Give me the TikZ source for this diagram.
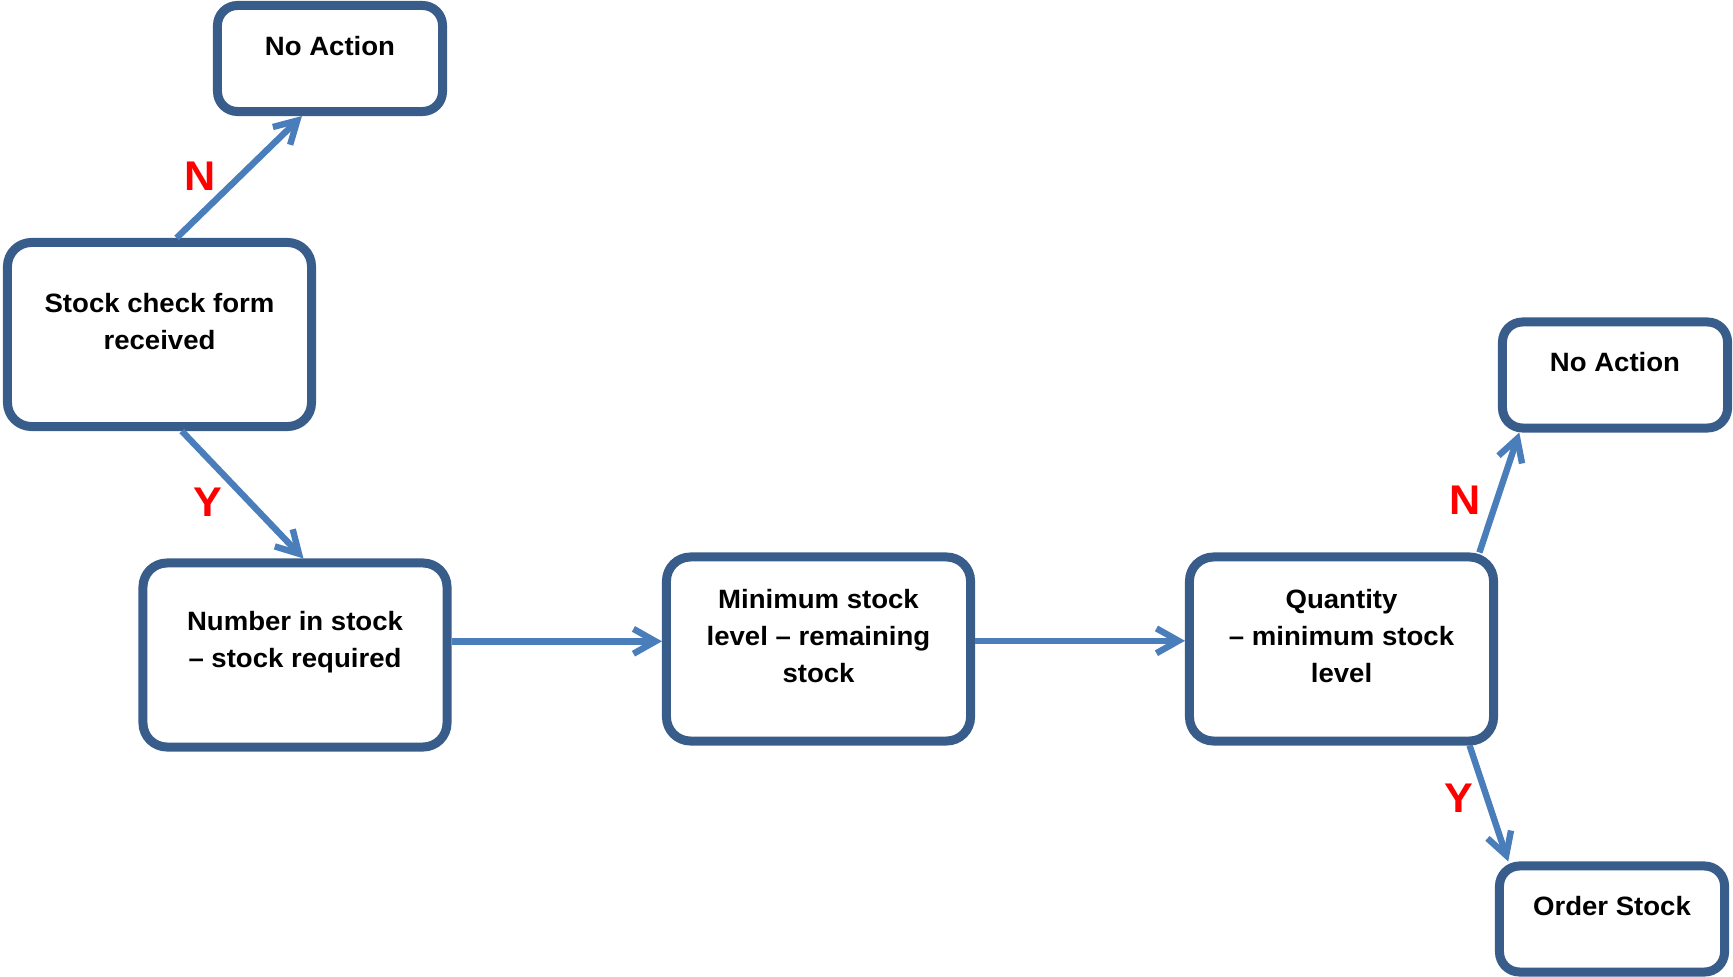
\documentclass[tikz,border=0pt]{standalone}
\usepackage{fontspec}
\setmainfont{Liberation Sans}[FakeStretch=1.04]
\usepackage{tikz}
\usetikzlibrary{arrows.meta}
\usetikzlibrary{calc}
\definecolor{boxblue}{HTML}{385D8A}
\definecolor{arrblue}{HTML}{4A7EBB}
\tikzstyle{bigbox} = [draw=boxblue,line width=0.225cm,rounded corners=0.6cm,fill=white,minimum width=7.6cm,minimum height=4.6cm]
\tikzstyle{smallbox} = [draw=boxblue,line width=0.225cm,rounded corners=0.5cm,fill=white,minimum width=5.625cm,minimum height=2.65cm]
\tikzstyle{txt} = [font=\fontsize{18.85}{26.3}\selectfont\bfseries,align=center,yshift=0.3125cm]
\tikzstyle{arr} = [draw=arrblue,line width=0.16cm,-{Straight Barb[length=0.55cm,width=0.62cm]}]
\tikzstyle{yn} = [text=red,font=\fontsize{29.5}{30}\selectfont\bfseries]

\begin{document}
\begin{tikzpicture}[x=0.025cm,y=-0.025cm]
\useasboundingbox (0,0) rectangle (1733,977);

\draw(330,58.5) node[smallbox,label={[txt]center:No Action}] (noact1) {};
\draw(159.5,334.5) node[bigbox,label={[txt]center:{Stock check form\\received}}] (stock) {};
\draw(295,655) node[bigbox,label={[txt]center:{Number in stock\\– stock required}}] (number) {};
\draw(818.5,649) node[bigbox,label={[txt]center:{Minimum stock\\level – remaining\\stock}}] (minimum) {};
\draw(1341.5,649) node[bigbox,label={[txt]center:{Quantity\\– minimum stock\\level}}] (quantity) {};
\draw(1615,375) node[smallbox,label={[txt]center:No Action}] (noact2) {};
\draw(1612,919) node[smallbox,label={[txt]center:Order Stock}] (order) {};

% decisions
\draw[arr] (stock.80.8) -- (noact1.244.5);
\draw[arr] (stock.283.8) -- (number.85.3);
\draw[arr] (number.5.5) -- (number.5.5 -| minimum.west);
\draw[arr] (minimum.3) -- (minimum.3 -| quantity.west);
\draw[arr] (quantity.35.5) -- (noact2.211.9);
\draw[arr] (quantity.323.9) -- (order.151.1);

\draw(200,176) node[yn] (n1) {N};
\draw(208,502) node[yn] (y1) {Y};
\draw(1465,500) node[yn] (n2) {N};
\draw(1459,798) node[yn] (y2) {Y};

\end{tikzpicture}
\end{document}
